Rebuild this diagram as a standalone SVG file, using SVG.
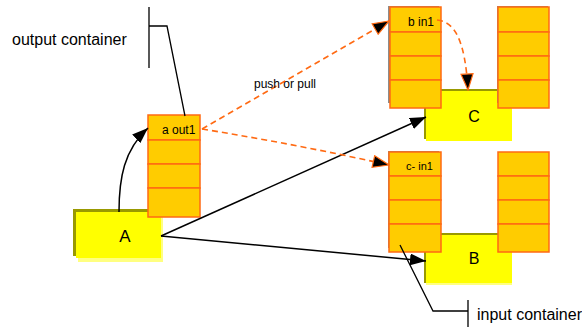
<svg xmlns="http://www.w3.org/2000/svg" width="582" height="327" viewBox="0 0 582 327">
<style>
text{font-family:"Liberation Sans",Arial,sans-serif;fill:#000}
.cell{fill:#FFCC00;stroke:#FF6A13;stroke-width:1.5}
.gsh{fill:#8c8c8c}
.olive{fill:#999900}
.pale{fill:#FFFF80}
.yel{fill:#FFFF00}
.big{font-size:16px}
.lbl{font-size:12px}
.sm{font-size:11px}
.blk{fill:none;stroke:#000;stroke-width:1.5}
.dash{fill:none;stroke:#FF6A13;stroke-width:1.6;stroke-dasharray:6 4}
</style>
<defs>
<marker id="ab" viewBox="0 0 16 12" refX="16" refY="6" markerWidth="16" markerHeight="12" markerUnits="userSpaceOnUse" orient="auto">
<path d="M0,0 L16,6 L0,12 z" fill="#000"/>
</marker>
<marker id="ao" viewBox="-1 -1 18 14" refX="16" refY="6" markerWidth="18" markerHeight="14" markerUnits="userSpaceOnUse" orient="auto">
<path d="M0,0 L16,6 L0,12 z" fill="#000" stroke="#FF6A13" stroke-width="1.2"/>
</marker>
</defs>

<text class="big" x="12" y="45">output container</text>
<text class="big" x="477" y="320">input container</text>

<g id="nodeA">
<rect class="olive" x="73" y="209" width="86" height="47"/>
<rect class="pale" x="78" y="215" width="85" height="47"/>
<rect class="yel" x="76" y="212" width="85" height="46"/>
<text class="big" x="125" y="242" text-anchor="middle" style="font-size:17px">A</text>
</g>

<g id="outContainer">
<rect class="cell" x="148" y="115" width="52" height="25"/>
<rect class="cell" x="148" y="140" width="52" height="24"/>
<rect class="cell" x="148" y="164" width="52" height="24"/>
<rect class="cell" x="148" y="188" width="52" height="29"/>
<text class="lbl" x="162" y="134">a out1</text>
</g>

<g id="nodeC">
<rect class="olive" x="424" y="89" width="86" height="50"/>
<rect class="yel" x="426" y="91" width="86" height="50"/>
<text class="big" x="474" y="122" text-anchor="middle">C</text>
</g>

<g id="inContainerC">
<rect class="gsh" x="388" y="6" width="51" height="97"/>
<rect class="cell" x="390" y="7" width="51" height="25"/>
<rect class="cell" x="390" y="32" width="51" height="24"/>
<rect class="cell" x="390" y="56" width="51" height="24"/>
<rect class="cell" x="390" y="80" width="51" height="28"/>
<text class="lbl" x="408" y="26">b in1</text>
<rect class="gsh" x="497" y="6" width="51" height="97"/>
<rect class="cell" x="498" y="7" width="51" height="25"/>
<rect class="cell" x="498" y="32" width="51" height="24"/>
<rect class="cell" x="498" y="56" width="51" height="24"/>
<rect class="cell" x="498" y="80" width="51" height="28"/>
</g>

<g id="nodeB">
<rect class="olive" x="424" y="233" width="86" height="50"/>
<rect class="pale" x="426" y="237" width="86" height="48"/>
<rect class="yel" x="426" y="235" width="86" height="48"/>
<text class="big" x="474" y="264" text-anchor="middle">B</text>
</g>

<g id="inContainerB">
<rect class="gsh" x="388" y="151" width="51" height="97"/>
<rect class="cell" x="389" y="152" width="52" height="24"/>
<rect class="cell" x="389" y="176" width="52" height="24"/>
<rect class="cell" x="389" y="200" width="52" height="24"/>
<rect class="cell" x="389" y="224" width="52" height="28"/>
<text class="sm" x="406" y="170">c- in1</text>
<rect class="cell" x="498" y="152" width="51" height="24"/>
<rect class="cell" x="498" y="176" width="51" height="24"/>
<rect class="cell" x="498" y="200" width="51" height="24"/>
<rect class="cell" x="498" y="224" width="51" height="28"/>
</g>

<g id="connectors">
<path class="blk" d="M119,212 C119,178 124,150 148,128" marker-end="url(#ab)"/>
<path class="blk" d="M161,236 L426,117" marker-end="url(#ab)"/>
<path class="blk" d="M161,236 L426,261" marker-end="url(#ab)"/>
<path class="dash" d="M202,129 L389,21" marker-end="url(#ao)"/>
<path class="dash" d="M202,129 Q300,145 389,165" marker-end="url(#ao)"/>
<path class="dash" d="M437,20 C455,22 465,40 468,90" marker-end="url(#ao)"/>
<text class="lbl" x="254" y="88">push or pull</text>
<path class="blk" d="M185,116 L167,26 L149,26 M149,7 L149,68" style="stroke-width:1.3"/>
<path class="blk" d="M400,245 L433,311 L468,311 M468,300 L468,327" style="stroke-width:1.3"/>
</g>
</svg>
